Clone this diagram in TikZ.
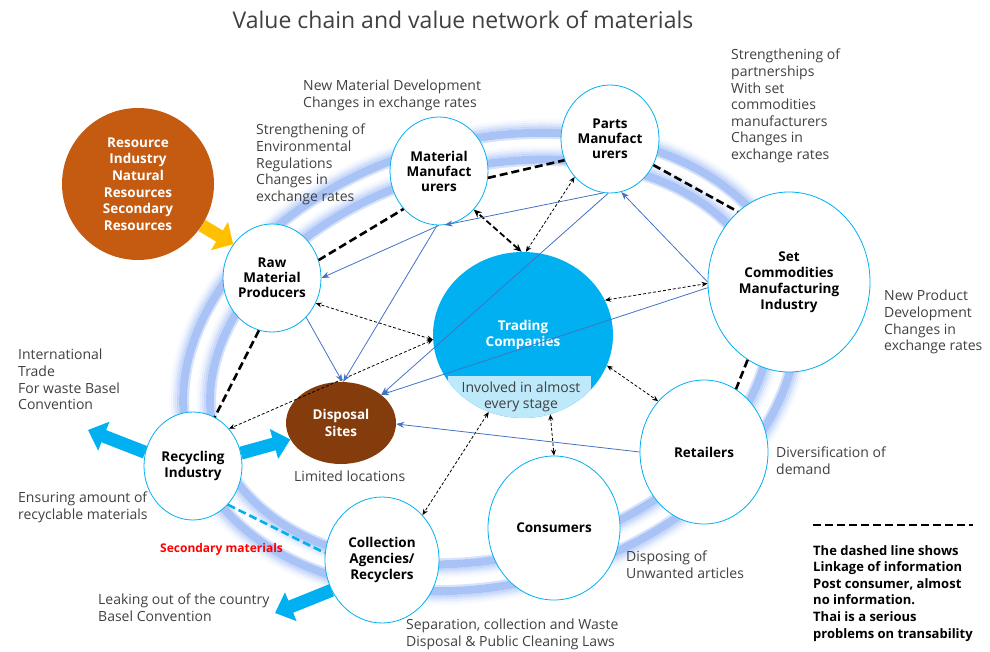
\documentclass[tikz,border=0pt]{standalone}
\usepackage{fontspec}
\setmainfont{Open Sans}
\usetikzlibrary{arrows.meta,shapes.geometric,backgrounds}
\definecolor{resourcecolor}{RGB}{197,90,17}
\definecolor{disposalcolor}{RGB}{132,60,12}
\definecolor{tradecolor}{RGB}{0,176,240}
\definecolor{stagecolor}{RGB}{189,233,250}
\definecolor{ringcolor}{RGB}{155,185,245}
\definecolor{flowcolor}{RGB}{68,114,196}
\definecolor{goldcolor}{RGB}{255,192,0}
\definecolor{notecolor}{RGB}{64,64,64}
\definecolor{secondcolor}{RGB}{255,0,0}

\begin{document}
\begin{tikzpicture}[
  x=1pt,y=-1pt,
  actor/.style={ellipse,draw=tradecolor,line width=0.8pt,fill=white,inner sep=0pt,align=center,
    font=\fontsize{13.5}{16}\selectfont\bfseries},
  tight/.style={font=\fontsize{13.5}{15}\selectfont\bfseries},
  note/.style={font=\fontsize{14}{16.6}\selectfont,text=notecolor,align=left,anchor=north west,inner sep=0pt},
  info/.style={line width=2.6pt,dash pattern=on 8pt off 4pt},
  link/.style={{Stealth[length=6pt,width=5pt]}-{Stealth[length=6pt,width=5pt]},line width=0.8pt,dash pattern=on 3pt off 2pt},
  linkthick/.style={{Stealth[length=8pt,width=7pt]}-{Stealth[length=8pt,width=7pt]},line width=1.8pt,dash pattern=on 6pt off 3pt},
  flow/.style={-{Stealth[length=8pt,width=6pt]},draw=flowcolor,line width=0.8pt},
  bigarrow/.style={-{Triangle[length=17pt,width=30pt]},draw=tradecolor,line width=13pt},
  goldarrow/.style={-{Triangle[length=16pt,width=32pt]},draw=goldcolor,line width=13pt},
  ringcore/.style={draw=ringcolor,line width=8pt,opacity=0.85},
  ringhalo/.style={draw=ringcolor,line width=2.2pt,opacity=#1},
]
\useasboundingbox (0,0) rectangle (990,652);

% --- TITLE ---
\node[anchor=north,font=\fontsize{23}{26}\selectfont,text=notecolor] (title) at (463,7)
  {Value chain and value network of materials};

% --- ACTORS ---
\node[circle,fill=resourcecolor,minimum size=152pt,inner sep=0pt,align=center,text=white,
  font=\fontsize{13.5}{16.6}\selectfont\bfseries] (resource) at (138,184)
  {Resource\\Industry\\Natural\\Resources\\Secondary\\Resources};
\node[actor,tight,minimum width=98pt,minimum height=108pt] (raw) at (272,278) {Raw\\Material\\Producers};
\node[actor,tight,minimum width=98pt,minimum height=108pt] (matmfr) at (439,171) {Material\\Manufact\\urers};
\node[actor,tight,minimum width=98pt,minimum height=108pt] (partsmfr) at (610,139) {Parts\\Manufact\\urers};
\node[actor,minimum width=162pt,minimum height=180pt] (setmfr) at (789,282)
  {Set\\Commodities\\Manufacturing\\Industry};
\node[actor,minimum width=98pt,minimum height=108pt] (recycling) at (193,466) {Recycling\\Industry};
\node[actor,minimum width=114pt,minimum height=126pt] (collection) at (382,560) {Collection\\Agencies/\\Recyclers};
\node[actor,minimum width=132pt,minimum height=144pt] (consumers) at (554,528) {Consumers};
\node[actor,minimum width=128pt,minimum height=144pt] (retailers) at (704,452) {Retailers};
\node[ellipse,fill=disposalcolor,minimum width=110pt,minimum height=82pt,inner sep=0pt,align=center,text=white,
  font=\fontsize{13.5}{16.6}\selectfont\bfseries] (disposal) at (341,423) {Disposal\\Sites};

% --- TRADING COMPANIES ---
\node[ellipse,fill=tradecolor,minimum width=180pt,minimum height=166pt,inner sep=0pt,align=center,text=white,
  font=\fontsize{13.5}{16.6}\selectfont\bfseries] (trading) at (523,335) {Trading\\Companies};
\begin{scope}
  \clip (523,335) ellipse [x radius=90, y radius=83];
  \fill[stagecolor] (448,376) rectangle (591,420);
\end{scope}
\node[align=center,inner sep=0pt,text=notecolor,font=\fontsize{14}{16.5}\selectfont] (stage) at (521,397)
  {Involved in almost\\every stage};

% --- RINGS + BLOCK ARROWS ---
\begin{scope}[on background layer]
  \foreach \a/\b in {285/195,312/222} {
    \begin{scope}[rotate around={15:(490,362)}]
      % soft outer edge
      \foreach \d/\o in {5/0.55,7/0.38,9/0.24,11/0.12,13/0.05}
        \draw[ringhalo=\o] (490,362) ellipse [x radius=\a+\d, y radius=\b+\d];
      \draw[ringhalo=0.4] (490,362) ellipse [x radius=\a-5, y radius=\b-5];
      \draw[ringcore] (490,362) ellipse [x radius=\a, y radius=\b];
    \end{scope}
  }
  \coordinate (exportout) at (88,430);
  \coordinate (leakout) at (275,613);
  \draw[bigarrow] (recycling.164) -- (exportout);
  \draw[bigarrow] (recycling.15) -- (disposal.198);
  \draw[bigarrow] (collection.211) -- (leakout);
  \draw[goldarrow] (resource.-33) -- (raw.139);
\end{scope}

% --- INFORMATION LINKS ---
\draw[info] (raw.21) -- (matmfr.227);
\draw[info] (matmfr.-8) -- (partsmfr.205);
\draw[info] (partsmfr.-31) -- (setmfr.126);
\draw[info] (setmfr.242) -- (retailers.63);
\draw[info] (raw.256) -- (recycling.66);
\draw[info,draw=tradecolor] (recycling.-48) -- (collection.173);

% --- TRADING LINKS ---
\draw[linkthick] (trading.91) -- (matmfr.-48);
\draw[link] (trading.88) -- (partsmfr.227);
\draw[link] (trading.183) -- (raw.-30);
\draw[link] (trading.183) -- (recycling.46);
\draw[link] (trading.23) -- (setmfr.181);
\draw[link] (trading.-20) -- (retailers.132);
\draw[link] (trading.-71) -- (consumers.90);
\draw[link] (trading.-114) -- (collection.48);

% --- MATERIAL FLOWS ---
\draw[flow] (partsmfr.-97) -- (matmfr.-84);
\draw[flow] (matmfr.-90) -- (raw.0);
\draw[flow] (matmfr.-92) -- (disposal.87);
\draw[flow] (raw.-49) -- (disposal.88);
\draw[flow] (partsmfr.-92) -- (disposal.35);
\draw[flow] (setmfr.184) -- (disposal.35);
\draw[flow] (setmfr.180) -- (partsmfr.-78);
\draw[flow] (retailers.180) -- (disposal.-1);

% --- NOTES ---
\node[note] (newmat) at (303,80) {New Material Development\\Changes in exchange rates};
\node[note] (envreg) at (256,124) {Strengthening of\\Environmental\\Regulations\\Changes in\\exchange rates};
\node[note] (partner) at (731,49) {Strengthening of\\partnerships\\With set\\commodities\\manufacturers\\Changes in\\exchange rates};
\node[note] (newprod) at (884,290) {New Product\\Development\\Changes in\\exchange rates};
\node[note] (intltrade) at (18,349) {International\\Trade\\For waste Basel\\Convention};
\node[note] (ensuring) at (18,492) {Ensuring amount of\\recyclable materials};
\node[note] (limited) at (294,471) {Limited locations};
\node[note] (diversif) at (776,447) {Diversification of\\demand};
\node[note] (disposing) at (626,551) {Disposing of\\Unwanted articles};
\node[note] (separation) at (406,619) {Separation, collection and Waste\\Disposal \& Public Cleaning Laws};
\node[note] (leaking) at (98,594) {Leaking out of the country\\Basel Convention};
\node[note,text=secondcolor,font=\fontsize{12}{14}\selectfont\bfseries] (secondary) at (160,543) {Secondary materials};

% --- LEGEND ---
\coordinate (legstart) at (813,525);
\coordinate (legend) at (973,525);
\draw[info] (legstart) -- (legend);
\node[note,text=black,font=\fontsize{13}{16.6}\selectfont\bfseries] (legtext) at (813,545)
  {The dashed line shows\\Linkage of information\\Post consumer, almost\\no information.\\Thai is a serious\\problems on transability};

\end{tikzpicture}
\end{document}
